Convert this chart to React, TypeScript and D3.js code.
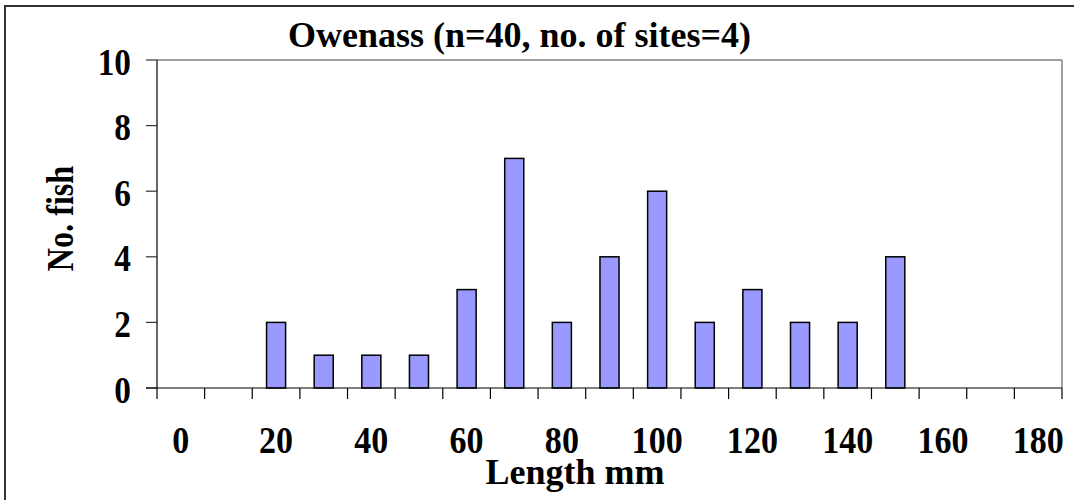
import React from "react";
import * as d3 from "d3";

const categories: number[] = [0, 10, 20, 30, 40, 50, 60, 70, 80, 90, 100, 110, 120, 130, 140, 150, 160, 170, 180];
const counts: number[] = [0, 0, 2, 1, 1, 1, 3, 7, 2, 4, 6, 2, 3, 2, 2, 4, 0, 0, 0];
const xTickLabels: number[] = [0, 20, 40, 60, 80, 100, 120, 140, 160, 180];
const yTicks: number[] = [0, 2, 4, 6, 8, 10];
const title = "Owenass (n=40, no. of sites=4)";
const xTitle = "Length mm";
const yTitle = "No. fish";

const W = 1074;
const H = 500;
const left = 157;
const right = 1062;
const top = 60;
const bottom = 388;
const FONT = "Liberation Serif, Times New Roman, serif";

export default function App() {
  const x = d3
    .scaleBand<number>()
    .domain(categories)
    .range([left, right])
    .paddingInner(0.6)
    .paddingOuter(0.3);
  const y = d3.scaleLinear().domain([0, 10]).range([bottom, top]);
  const step = x.step();
  const bw = x.bandwidth();
  const boundaries = d3.range(categories.length + 1).map((i) => left + i * step);
  const txt = { fontFamily: FONT, fontWeight: 700 as const };

  return (
    <svg
      width={W}
      height={H}
      style={{ position: "absolute", left: 0, top: 0, background: "#fff" }}
    >
      <rect x={5} y={6} width={W + 20} height={H + 20} fill="#fff" stroke="#333" strokeWidth={2} />
      {/* plot area border */}
      <line x1={left} x2={right} y1={top} y2={top} stroke="#808080" strokeWidth={1.5} />
      <line x1={right} x2={right} y1={top} y2={bottom} stroke="#808080" strokeWidth={1.5} />
      {/* bars */}
      {categories.map((c, i) =>
        counts[i] > 0 ? (
          <rect
            key={c}
            x={x(c)!}
            y={y(counts[i])}
            width={bw}
            height={bottom - y(counts[i])}
            fill="#9999FF"
            stroke="#000"
            strokeWidth={1.5}
          />
        ) : null
      )}
      {/* y axis */}
      <line x1={left} x2={left} y1={top} y2={bottom} stroke="#000" strokeWidth={1.2} />
      {yTicks.map((t) => (
        <g key={t}>
          <line x1={left - 11} x2={left} y1={y(t)} y2={y(t)} stroke="#333" strokeWidth={1.2} />
          <text
            transform={`translate(131, ${y(t) + 14.5}) scale(0.9, 1)`}
            textAnchor="end"
            fontSize={37}
            style={txt}
          >
            {t}
          </text>
        </g>
      ))}
      {/* x axis */}
      <line x1={left - 11} x2={right} y1={bottom} y2={bottom} stroke="#000" strokeWidth={1.2} />
      {boundaries.map((b, i) => (
        <line key={i} x1={b} x2={b} y1={bottom} y2={bottom + 11} stroke="#000" strokeWidth={1.2} />
      ))}
      {xTickLabels.map((t) => (
        <text
          key={t}
          transform={`translate(${x(t)! + bw / 2}, 453) scale(0.92, 1)`}
          textAnchor="middle"
          fontSize={37}
          style={txt}
        >
          {t}
        </text>
      ))}
      <text x={575} y={484} textAnchor="middle" fontSize={36} style={txt}>
        {xTitle}
      </text>
      <text
        transform={`translate(73, 218.5) rotate(-90) scale(0.87, 1)`}
        textAnchor="middle"
        fontSize={37}
        style={txt}
      >
        {yTitle}
      </text>
      <text x={519.5} y={47} textAnchor="middle" fontSize={36} style={txt}>
        {title}
      </text>
    </svg>
  );
}
